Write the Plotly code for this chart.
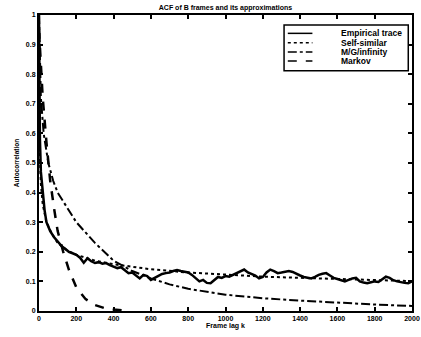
import plotly.graph_objects as go

# Empirical trace (frame lag, autocorrelation)
emp_k = [0, 2, 5, 10, 20, 30, 40, 60, 80, 100, 120, 140, 160, 180, 200, 220, 240, 260, 280, 300,
         320, 340, 360, 380, 400, 420, 440, 460, 480, 500, 520, 540, 560, 580, 600, 620, 640, 660,
         680, 700, 720, 740, 760, 780, 800, 820, 840, 860, 880, 900, 920, 940, 960, 980, 1000,
         1020, 1040, 1060, 1080, 1100, 1120, 1140, 1160, 1180, 1200, 1220, 1240, 1260, 1280, 1300,
         1320, 1340, 1360, 1380, 1400, 1420, 1440, 1460, 1480, 1500, 1520, 1540, 1560, 1580, 1600,
         1620, 1640, 1660, 1680, 1700, 1720, 1740, 1760, 1780, 1800, 1820, 1840, 1860, 1880, 1900,
         1920, 1940, 1960, 1980, 2000]
emp_r = [1.0, 0.75, 0.58, 0.47, 0.40, 0.34, 0.30, 0.27, 0.25, 0.235, 0.22, 0.21, 0.20, 0.195, 0.19,
         0.18, 0.163, 0.178, 0.168, 0.162, 0.165, 0.16, 0.162, 0.155, 0.15, 0.145, 0.148, 0.138,
         0.128, 0.13, 0.12, 0.11, 0.122, 0.118, 0.105, 0.112, 0.12, 0.125, 0.128, 0.13, 0.135,
         0.138, 0.135, 0.133, 0.13, 0.122, 0.11, 0.10, 0.105, 0.095, 0.094, 0.105, 0.115, 0.112,
         0.118, 0.116, 0.122, 0.128, 0.135, 0.14, 0.13, 0.125, 0.12, 0.11, 0.115, 0.13, 0.14, 0.135,
         0.128, 0.13, 0.133, 0.135, 0.132, 0.125, 0.12, 0.115, 0.112, 0.11, 0.115, 0.122, 0.126,
         0.128, 0.12, 0.112, 0.108, 0.104, 0.10, 0.105, 0.11, 0.112, 0.10, 0.096, 0.094, 0.097, 0.10,
         0.098, 0.108, 0.116, 0.112, 0.104, 0.10, 0.097, 0.095, 0.094, 0.10]

# Self-similar model
ss_k = [0, 1, 2, 5, 10, 20, 40, 70, 100, 150, 200, 300, 400, 500, 600, 800, 1000, 1200, 1400,
        1600, 1800, 2000]
ss_r = [1.0, 0.82, 0.68, 0.52, 0.43, 0.36, 0.30, 0.26, 0.23, 0.205, 0.19, 0.17, 0.158, 0.149,
        0.141, 0.13, 0.122, 0.116, 0.112, 0.108, 0.104, 0.101]

# M/G/infinity model
mg_k = [0, 10, 25, 50, 76, 100, 130, 200, 300, 400, 500, 600, 700, 800, 1000, 1200, 1400, 1600,
        1800, 2000]
mg_r = [1.0, 0.72, 0.60, 0.50, 0.44, 0.40, 0.37, 0.30, 0.23, 0.17, 0.135, 0.11, 0.09, 0.075,
        0.055, 0.043, 0.035, 0.028, 0.022, 0.017]

# Markov model
mk_k = [0, 20, 40, 60, 80, 100, 130, 160, 200, 250, 300, 350, 400, 450]
mk_r = [0.95, 0.72, 0.57, 0.44, 0.35, 0.27, 0.20, 0.14, 0.08, 0.04, 0.02, 0.01, 0.005, 0.002]

x_ticks = [0, 200, 400, 600, 800, 1000, 1200, 1400, 1600, 1800, 2000]
y_ticks = [0, 0.1, 0.2, 0.3, 0.4, 0.5, 0.6, 0.7, 0.8, 0.9, 1]
y_tick_text = ["0", "0.1", "0.2", "0.3", "0.4", "0.5", "0.6", "0.7", "0.8", "0.9", "1"]

series_names = ["Empirical trace", "Self-similar", "M/G/infinity", "Markov"]
series_dash = ["solid", "dot", "dashdot", "dash"]
series_width = [2.5, 2, 2, 2.5]

font_family = "Liberation Sans, Arial, sans-serif"

fig = go.Figure()
for xs, ys, name, dash, w in zip([emp_k, ss_k, mg_k, mk_k], [emp_r, ss_r, mg_r, mk_r],
                                 series_names, series_dash, series_width):
    fig.add_trace(go.Scatter(x=xs, y=ys, mode="lines", name=name, showlegend=False,
                             line=dict(color="black", width=w, dash=dash)))

# Compact MATLAB-style legend box (paper coordinates)
shapes = [dict(type="rect", xref="paper", yref="paper", x0=0.657, x1=0.99, y0=0.812, y1=0.966,
               line=dict(color="black", width=1.5), fillcolor="white", layer="above")]
annotations = []
row_y = [0.938, 0.906, 0.875, 0.845]
for name, dash, w, yy in zip(series_names, series_dash, series_width, row_y):
    shapes.append(dict(type="line", xref="paper", yref="paper", x0=0.667, x1=0.733, y0=yy, y1=yy,
                       line=dict(color="black", width=1.5, dash=dash), layer="above"))
    annotations.append(dict(text="<b>" + name + "</b>", xref="paper", yref="paper", x=0.805, y=yy,
                            xanchor="left", yanchor="middle", showarrow=False,
                            font=dict(size=8.5, family=font_family, color="black")))

fig.update_layout(
    width=421, height=337,
    margin=dict(l=39, r=9, t=15, b=26),
    paper_bgcolor="white", plot_bgcolor="white",
    font=dict(family=font_family, size=7, color="black"),
    title=dict(text="<b>ACF of B frames and its approximations</b>", xref="paper", x=0.5,
               xanchor="center", y=0.985, yanchor="top", font=dict(size=7, family=font_family)),
    shapes=shapes, annotations=annotations,
)
fig.update_xaxes(range=[0, 2000], tickvals=x_ticks, ticktext=["<b>%d</b>" % v for v in x_ticks],
                 ticks="inside", ticklen=4, automargin=False, ticklabeloverflow="allow",
                 tickwidth=1.5, tickcolor="black", showline=True, linecolor="black",
                 linewidth=2, mirror="ticks", showgrid=False, zeroline=False,
                 tickfont=dict(size=7, family=font_family),
                 title=dict(text="<b>Frame lag k</b>", standoff=2, font=dict(size=7)))
fig.update_yaxes(range=[0, 1], tickvals=y_ticks, ticktext=["<b>" + t + "</b>" for t in y_tick_text],
                 ticks="inside", automargin=False, ticklabeloverflow="allow",
                 ticklen=4, tickwidth=1.5, tickcolor="black", showline=True,
                 linecolor="black", linewidth=2, mirror="ticks", showgrid=False,
                 zeroline=False, tickfont=dict(size=7, family=font_family),
                 title=dict(text="<b>Autocorrelation</b>", standoff=6, font=dict(size=6.5)))

fig.write_html("out.html")
